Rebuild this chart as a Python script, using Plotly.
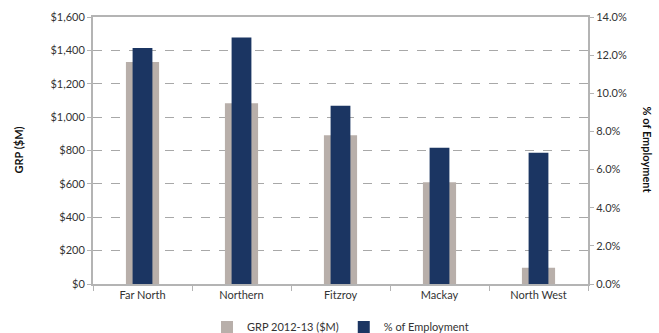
import plotly.graph_objects as go

regions = ["Far North", "Northern", "Fitzroy", "Mackay", "North West"]
grp_values = [1330, 1083, 892, 610, 98]
employment_pct = [12.37, 12.92, 9.35, 7.15, 6.88]

left_ticks = [0, 200, 400, 600, 800, 1000, 1200, 1400, 1600]
left_labels = ["$0", "$200", "$400", "$600", "$800", "$1,000", "$1,200", "$1,400", "$1,600"]
right_ticks = [0, 2, 4, 6, 8, 10, 12, 14]
right_labels = ["0.0%", "2.0%", "4.0%", "6.0%", "8.0%", "10.0%", "12.0%", "14.0%"]

grp_color = "#B8AFAA"
emp_color = "#1B3562"
font_family = "Lato, 'Noto Sans', sans-serif"
text_color = "#333333"
axis_color = "#B4B4B4"

fig = go.Figure()
fig.add_trace(go.Bar(
    x=regions, y=grp_values, name="GRP 2012-13 ($M)",
    marker=dict(color=grp_color, line=dict(width=0)),
    width=0.335, yaxis="y",
))
fig.add_trace(go.Bar(
    x=regions, y=employment_pct, name="% of Employment",
    marker=dict(color=emp_color, line=dict(width=0)),
    width=0.2, yaxis="y2",
))

fig.update_layout(
    width=659, height=333,
    margin=dict(l=93, r=71, t=17, b=49, autoexpand=False),
    paper_bgcolor="white", plot_bgcolor="white",
    barmode="overlay",
    font=dict(family=font_family, size=11, color=text_color),
    showlegend=True,
    legend=dict(orientation="h", x=0.5, xanchor="center", y=-0.161, yanchor="middle",
                font=dict(size=11, color=text_color), itemwidth=30,
                traceorder="normal", bgcolor="rgba(0,0,0,0)"),
    xaxis=dict(
        showline=True, linecolor=axis_color, linewidth=2, mirror=True,
        ticks="outside", tickson="boundaries", ticklen=5, tickcolor=axis_color,
        showgrid=False, tickfont=dict(size=11, color=text_color), automargin=False,
    ),
    yaxis=dict(
        range=[0, 1600], tickvals=left_ticks, ticktext=left_labels,
        showline=True, linecolor=axis_color, linewidth=2,
        ticks="outside", ticklen=4, tickcolor=axis_color,
        showgrid=True, gridcolor="#A8A8A8", griddash="dash", gridwidth=1,
        zeroline=False, tickfont=dict(size=11, color=text_color), automargin=False,
    ),
    yaxis2=dict(
        range=[0, 14], tickvals=right_ticks, ticktext=right_labels,
        overlaying="y", side="right",
        showline=True, linecolor=axis_color, linewidth=2,
        ticks="outside", ticklen=4, tickcolor=axis_color,
        showgrid=False, zeroline=False, tickfont=dict(size=11, color=text_color),
        automargin=False,
    ),
    annotations=[
        dict(text="<b>GRP ($M)</b>", xref="paper", yref="paper",
             x=-0.1515, y=0.5, textangle=-90, showarrow=False,
             xanchor="center", yanchor="middle",
             font=dict(size=11, color="#111111")),
        dict(text="<b>% of Employment</b>", xref="paper", yref="paper",
             x=1.121, y=0.5, textangle=90, showarrow=False,
             xanchor="center", yanchor="middle",
             font=dict(size=11, color="#111111")),
    ],
)

fig.write_html("out.html")
